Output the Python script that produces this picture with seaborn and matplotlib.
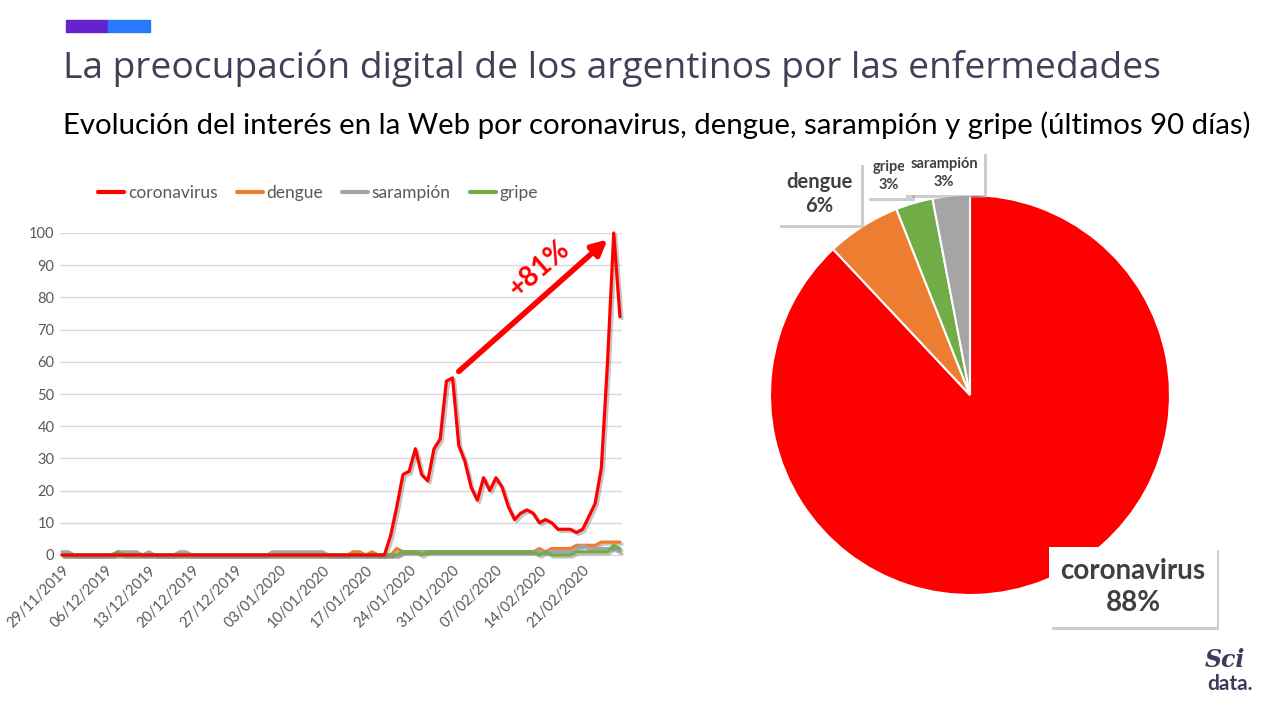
import pandas as pd
import matplotlib
matplotlib.use("Agg")
import matplotlib.pyplot as plt
import matplotlib.patheffects as pe
import seaborn as sns

# -----------------------------
# Data (last 90 days)
# -----------------------------
dates = pd.date_range("2019-11-29", "2020-02-27", freq="D")

# one row per week (7 days)
coronavirus = [
    0, 0, 0, 0, 0, 0, 0,
    0, 0, 0, 0, 0, 0, 0,
    0, 0, 0, 0, 0, 0, 0,
    0, 0, 0, 0, 0, 0, 0,
    0, 0, 0, 0, 0, 0, 0,
    0, 0, 0, 0, 0, 0, 0,
    0, 0, 0, 0, 0, 0, 0,
    0, 0, 0, 0, 6, 15, 25,
    26, 33, 25, 23, 33, 36, 54,
    55, 34, 29, 21, 17, 24, 20,
    24, 21, 15, 11, 13, 14, 13,
    10, 11, 10, 8, 8, 8, 7,
    8, 12, 16, 27, 60, 100, 74,
]
dengue = [
    0, 0, 0, 0, 0, 0, 0,
    0, 0, 0, 0, 0, 0, 0,
    0, 0, 0, 0, 0, 0, 0,
    0, 0, 0, 0, 0, 0, 0,
    0, 0, 0, 0, 0, 0, 0,
    0, 0, 0, 0, 0, 0, 0,
    0, 0, 0, 0, 0, 1, 1,
    0, 1, 0, 0, 0, 2, 1,
    1, 1, 1, 1, 1, 1, 1,
    1, 1, 1, 1, 1, 1, 1,
    1, 1, 1, 1, 1, 1, 1,
    2, 1, 2, 2, 2, 2, 3,
    3, 3, 3, 4, 4, 4, 4,
]
sarampion = [
    1, 1, 0, 0, 0, 0, 0,
    0, 0, 1, 1, 1, 1, 0,
    1, 0, 0, 0, 0, 1, 1,
    0, 0, 0, 0, 0, 0, 0,
    0, 0, 0, 0, 0, 0, 1,
    1, 1, 1, 1, 1, 1, 1,
    1, 0, 0, 0, 0, 0, 0,
    0, 0, 0, 0, 0, 0, 1,
    1, 1, 1, 1, 1, 1, 1,
    1, 1, 1, 1, 1, 1, 1,
    1, 1, 1, 1, 1, 1, 1,
    1, 1, 1, 1, 1, 1, 2,
    3, 2, 2, 2, 2, 2, 1,
]
gripe = [
    0, 0, 0, 0, 0, 0, 0,
    0, 0, 1, 0, 0, 0, 0,
    0, 0, 0, 0, 0, 0, 0,
    0, 0, 0, 0, 0, 0, 0,
    0, 0, 0, 0, 0, 0, 0,
    0, 0, 0, 0, 0, 0, 0,
    0, 0, 0, 0, 0, 0, 0,
    0, 0, 0, 0, 0, 0, 1,
    1, 1, 0, 1, 1, 1, 1,
    1, 1, 1, 1, 1, 1, 1,
    1, 1, 1, 1, 1, 1, 1,
    0, 1, 0, 0, 0, 0, 1,
    1, 1, 1, 1, 1, 3, 2,
]

series_names = ["coronavirus", "dengue", "sarampión", "gripe"]
series_colors = ["#ff0000", "#ed7d31", "#a5a5a5", "#70ad47"]

pie_labels = ["coronavirus", "dengue", "gripe", "sarampión"]
pie_values = [88, 6, 3, 3]
pie_colors = ["#ff0000", "#ed7d31", "#70ad47", "#a5a5a5"]

growth_label = "+81%"

title = "La preocupación digital de los argentinos por las enfermedades"
subtitle = ("Evolución del interés en la Web por coronavirus, dengue, "
            "sarampión y gripe (últimos 90 días)")

# long-form table for seaborn
df = pd.concat([
    pd.DataFrame({"fecha": dates, "interes": vals, "termino": name})
    for name, vals in zip(series_names, [coronavirus, dengue, sarampion, gripe])
])

# -----------------------------
# Figure
# -----------------------------
sns.set_style("white")
plt.rcParams["font.family"] = ["Lato", "DejaVu Sans"]

fig = plt.figure(figsize=(12.8, 7.2), dpi=100)

# header bar + titles
fig.patches.append(plt.Rectangle((66 / 1280, 1 - 32 / 720), 42 / 1280, 12 / 720,
                                 transform=fig.transFigure, color="#6622cc"))
fig.patches.append(plt.Rectangle((108 / 1280, 1 - 32 / 720), 42 / 1280, 12 / 720,
                                 transform=fig.transFigure, color="#2979ff"))
fig.text(63 / 1280, 1 - 68 / 720, title, fontsize=26.7, color="#404058",
         va="center", ha="left", family=["Open Sans", "DejaVu Sans"])
fig.text(63 / 1280, 1 - 125 / 720, subtitle, fontsize=21.2, color="black",
         va="center", ha="left", family=["Lato", "DejaVu Sans"])

# -----------------------------
# Line chart
# -----------------------------
ax = fig.add_axes([60 / 1280, 1 - 555 / 720, 562 / 1280, 322 / 720])
sns.lineplot(data=df, x="fecha", y="interes", hue="termino",
             hue_order=series_names, palette=dict(zip(series_names, series_colors)),
             linewidth=2.3, ax=ax, legend=False)

shadow = [pe.SimpleLineShadow(offset=(1.5, -1.5), shadow_color="#7f7f7f", alpha=0.45),
          pe.Normal()]
for line, z in zip(ax.lines, [5, 2, 3, 4]):
    line.set_path_effects(shadow)
    line.set_zorder(z)
    line.set_clip_on(False)

ax.set_ylim(0, 100)
ax.set_yticks(range(0, 101, 10))
ax.set_xlim(dates[0] - pd.Timedelta(hours=8), dates[-1] + pd.Timedelta(hours=8))
ax.set_xticks(dates[::7])
ax.set_xticklabels([d.strftime("%d/%m/%Y") for d in dates[::7]],
                   rotation=45, ha="right", rotation_mode="anchor")
ax.tick_params(axis="both", colors="#595959", labelsize=10.5, length=0, pad=6)
ax.tick_params(axis="y", pad=4)
ax.grid(axis="y", color="#d9d9d9", linewidth=1)
ax.set_axisbelow(True)
ax.set_xlabel("")
ax.set_ylabel("")
for s in ["top", "right", "left"]:
    ax.spines[s].set_visible(False)
ax.spines["bottom"].set_color("#d9d9d9")

handles = [plt.Line2D([], [], color=c, lw=3) for c in series_colors]
fig.legend(handles, series_names, loc="center", bbox_to_anchor=(318 / 1280, 1 - 193 / 720),
           ncol=4, frameon=False, fontsize=12.5, labelcolor="#595959",
           handlelength=1.5, handletextpad=0.2, columnspacing=1.1)

# growth arrow
ax.annotate("", xy=(dates[88], 98), xytext=(dates[64], 57),
            arrowprops=dict(arrowstyle="-|>,head_length=0.9,head_width=0.45",
                            lw=4, color="#ff0000", shrinkA=0, shrinkB=0))
ax.text(dates[77], 89, growth_label, color="#ff0000", fontsize=20, fontweight="bold",
        rotation=41, ha="center", va="center")

# -----------------------------
# Pie chart
# -----------------------------
ax2 = fig.add_axes([770 / 1280, 1 - 595 / 720, 400 / 1280, 400 / 720])
ax2.pie(pie_values, colors=pie_colors, startangle=90, counterclock=False,
        wedgeprops=dict(edgecolor="white", linewidth=1.5))
ax2.set_xlim(-1, 1)
ax2.set_ylim(-1, 1)
ax2.set_aspect("equal")


def label_box(x, y, text, size, pad):
    t = fig.text(x / 1280, 1 - y / 720, text, fontsize=size, fontweight="bold",
                 color="#404040", ha="center", va="center", linespacing=1.3,
                 bbox=dict(boxstyle=f"square,pad={pad}", fc="white", ec="none"),
                 zorder=10)
    t.get_bbox_patch().set_path_effects(
        [pe.withSimplePatchShadow(offset=(2, -2), shadow_rgbFace="#9f9f9f", alpha=0.5)])
    return t


label_box(819, 194, f"{pie_labels[1]}\n{pie_values[1]}%", 14.5, 0.45)
label_box(889, 176, f"{pie_labels[2]}\n{pie_values[2]}%", 10.5, 0.45)
label_box(944, 173, f"{pie_labels[3]}\n{pie_values[3]}%", 10.5, 0.45)
label_box(1133, 587, f"{pie_labels[0]}\n{pie_values[0]}%", 20, 0.4)

# logo
fig.text(1225 / 1280, 1 - 660 / 720, "Sci", fontsize=17, style="italic",
         family=["DejaVu Serif"], color="#3d3b5c", ha="center", va="center",
         fontweight="bold")
fig.text(1230 / 1280, 1 - 684 / 720, "data.", fontsize=15, fontweight="bold",
         color="#3d3b5c", ha="center", va="center")

plt.savefig("out.png", dpi=100)
